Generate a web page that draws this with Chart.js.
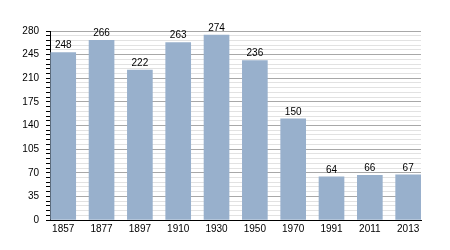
<!DOCTYPE html>
<html>
<head>
<meta charset="utf-8">
<script src="https://cdn.jsdelivr.net/npm/chart.js@4"></script>
<style>
  html, body { margin: 0; padding: 0; background: #fff; }
  #wrap { width: 450px; height: 250px; }
</style>
</head>
<body>
<div id="wrap"><canvas id="chart"></canvas></div>
<script>
const years = ['1857', '1877', '1897', '1910', '1930', '1950', '1970', '1991', '2011', '2013']
const population = [248, 266, 222, 263, 274, 236, 150, 64, 66, 67]
const yMax = 280
const majorStep = 35
const minorStep = 7

// puts the value above each bar
const valueLabels = {
    id: 'valueLabels',
    afterDatasetsDraw(chart) {
        const ctx = chart.ctx
        const meta = chart.getDatasetMeta(0)
        ctx.save()
        ctx.font = '10px "Liberation Sans", Arial, sans-serif'
        ctx.fillStyle = '#000'
        ctx.textAlign = 'center'
        ctx.textBaseline = 'bottom'
        meta.data.forEach((bar, i) => {
            ctx.fillText(population[i], bar.x, bar.y - 2)
        })
        ctx.restore()
    }
}

const chartConfig = {
    type: 'bar',
    data: {
        datasets: [{
            data: population.map((v, i) => ({ x: i, y: v })),
            backgroundColor: '#98b0cc',
            barThickness: 25
        }]
    },
    options: {
        responsive: false,
        animation: false,
        layout: { padding: { left: 0, right: 29, top: 31, bottom: 0 } },
        plugins: { legend: { display: false }, tooltip: { enabled: false } },
        scales: {
            x: {
                type: 'linear',
                offset: false,
                min: -0.345,
                max: 9.335,
                afterBuildTicks: scale => { scale.ticks = years.map((_, i) => ({ value: i })) },
                afterFit: scale => { scale.height = 30 },
                ticks: {
                    callback: v => years[v],
                    color: '#000',
                    font: { family: '"Liberation Sans", Arial, sans-serif', size: 10 },
                    maxRotation: 0,
                    padding: 3
                },
                grid: { display: false, drawTicks: false },
                border: { display: true, color: '#000', width: 1 }
            },
            y: {
                min: 0,
                max: yMax,
                afterFit: scale => { scale.width = 50 },
                ticks: {
                    stepSize: minorStep,
                    autoSkip: false,
                    callback: v => (v % majorStep === 0 ? v : ''),
                    color: '#000',
                    font: { family: '"Liberation Sans", Arial, sans-serif', size: 10 },
                    padding: 7
                },
                grid: {
                    color: c => (c.tick && c.tick.value % majorStep === 0 ? '#a8a8a8' : '#e2e2e2'),
                    tickColor: '#000',
                    tickLength: 4
                },
                border: { display: true, color: '#000', width: 1 }
            }
        }
    },
    plugins: [valueLabels]
}

const canvas = document.getElementById('chart')
canvas.width = 450
canvas.height = 250
new Chart(canvas, chartConfig)
</script>
</body>
</html>
